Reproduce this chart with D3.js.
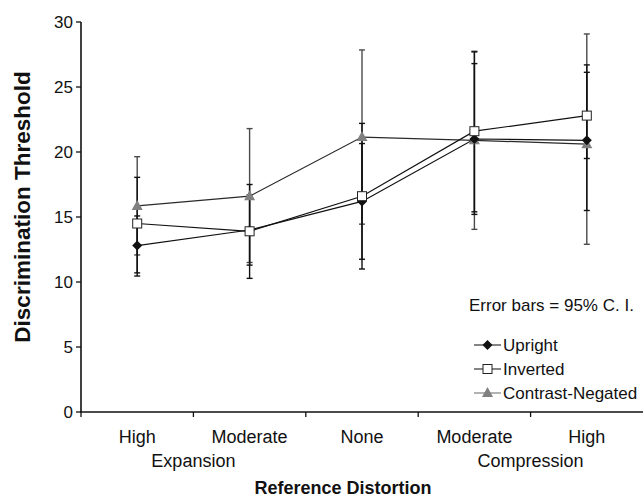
<!DOCTYPE html>
<html>
<head>
<meta charset="utf-8">
<script src="https://cdn.jsdelivr.net/npm/d3@7"></script>
<style>
  body { margin: 0; background: #fff; }
  text { font-family: "Liberation Sans", Arial, sans-serif; fill: #111; }
</style>
</head>
<body>
<div id="chart"></div>
<script>
// categories along the x axis
const categories = ["HE", "ME", "N", "MC", "HC"];
const topLabels = ["High", "Moderate", "None", "Moderate", "High"];
const yTicks = [0, 5, 10, 15, 20, 25, 30];

// means per series
const upright = [12.8, 14.0, 16.2, 21.0, 20.9];
const inverted = [14.5, 13.9, 16.6, 21.6, 22.8];
const contrast = [15.85, 16.6, 21.15, 20.9, 20.6];

// 95% CI ends (lower, upper)
const uprightLo = [10.46, 11.3, 11.75, 15.2, 15.5];
const uprightHi = [15.08, 16.7, 20.65, 26.8, 26.7];
const invertedLo = [10.7, 10.28, 11.0, 15.4, 19.5];
const invertedHi = [18.05, 17.5, 22.2, 27.7, 26.13];
const contrastLo = [12.08, 11.5, 14.45, 14.05, 12.9];
const contrastHi = [19.64, 21.8, 27.85, 27.75, 29.08];

const W = 644, H = 497;
const svg = d3.select("#chart").append("svg")
    .attr("width", W).attr("height", H);

const x = d3.scaleBand().domain(categories).range([81, 643]).padding(0);
const y = d3.scaleLinear().domain([0, 30]).range([412, 22]);

const series = [
    {name: "Contrast-Negated", vals: contrast, lo: contrastLo, hi: contrastHi, bar: "#4a4a4a", line: "#2a2a2a", marker: "tri"},
    {name: "Upright", vals: upright, lo: uprightLo, hi: uprightHi, bar: "#111", line: "#111", marker: "dia"},
    {name: "Inverted", vals: inverted, lo: invertedLo, hi: invertedHi, bar: "#111", line: "#111", marker: "sq"}
];

function cx(i) { return x(categories[i]) + x.bandwidth() / 2; }

// error bars
series.forEach(function(s) {
    let g = svg.append("g");
    s.vals.forEach(function(v, i) {
        g.append("line")
            .attr("x1", cx(i)).attr("x2", cx(i))
            .attr("y1", y(s.lo[i])).attr("y2", y(s.hi[i]))
            .attr("stroke", s.bar).attr("stroke-width", 1.4);
        [s.lo[i], s.hi[i]].forEach(function(e) {
            g.append("line")
                .attr("x1", cx(i) - 3).attr("x2", cx(i) + 3)
                .attr("y1", y(e)).attr("y2", y(e))
                .attr("stroke", s.bar).attr("stroke-width", 1.4);
        });
    });
});

// lines
const line = d3.line().x(function(d, i) { return cx(i); }).y(function(d) { return y(d); });
series.forEach(function(s) {
    svg.append("path").datum(s.vals)
        .attr("d", line)
        .attr("fill", "none")
        .attr("stroke", s.line)
        .attr("stroke-width", 1.2);
});

function drawMarker(g, kind, px, py) {
    if (kind === "dia") {
        g.append("path")
            .attr("d", "M" + px + "," + (py - 5) + "L" + (px + 5) + "," + py + "L" + px + "," + (py + 5) + "L" + (px - 5) + "," + py + "Z")
            .attr("fill", "#111");
    } else if (kind === "sq") {
        g.append("rect")
            .attr("x", px - 4.5).attr("y", py - 4.5)
            .attr("width", 9).attr("height", 9)
            .attr("fill", "#fff").attr("stroke", "#222").attr("stroke-width", 1);
    } else {
        g.append("path")
            .attr("d", "M" + px + "," + (py - 6) + "L" + (px + 5.5) + "," + (py + 4) + "L" + (px - 5.5) + "," + (py + 4) + "Z")
            .attr("fill", "#808080");
    }
}

// markers
series.forEach(function(s) {
    let g = svg.append("g");
    s.vals.forEach(function(v, i) { drawMarker(g, s.marker, cx(i), y(v)); });
});

// y axis
svg.append("line").attr("x1", 81).attr("x2", 81).attr("y1", y(30)).attr("y2", y(0))
    .attr("stroke", "#111").attr("stroke-width", 1.6);
yTicks.forEach(function(t) {
    svg.append("line").attr("x1", 76).attr("x2", 81).attr("y1", y(t)).attr("y2", y(t))
        .attr("stroke", "#111").attr("stroke-width", 1.3);
    svg.append("text").attr("x", 73).attr("y", y(t)).attr("dy", "0.35em")
        .attr("text-anchor", "end").style("font-size", "17px").text(t);
});

// x axis
svg.append("line").attr("x1", 80).attr("x2", 643).attr("y1", 412).attr("y2", 412)
    .attr("stroke", "#111").attr("stroke-width", 1.6);
categories.forEach(function(c) {
    svg.append("line").attr("x1", x(c)).attr("x2", x(c)).attr("y1", 412).attr("y2", 417)
        .attr("stroke", "#111").attr("stroke-width", 1.3);
});
topLabels.forEach(function(l, i) {
    svg.append("text").attr("x", cx(i)).attr("y", 443)
        .attr("text-anchor", "middle").style("font-size", "18px").text(l);
});
svg.append("text").attr("x", x("ME")).attr("y", 467)
    .attr("text-anchor", "middle").style("font-size", "18px").text("Expansion");
svg.append("text").attr("x", x("HC")).attr("y", 467)
    .attr("text-anchor", "middle").style("font-size", "18px").text("Compression");

// axis titles
svg.append("text").attr("x", 343).attr("y", 494)
    .attr("text-anchor", "middle").style("font-size", "18px").style("font-weight", "bold")
    .text("Reference Distortion");
svg.append("text").attr("transform", "translate(30,207) rotate(-90)")
    .attr("text-anchor", "middle").style("font-size", "22.5px").style("font-weight", "bold")
    .text("Discrimination Threshold");

// note
svg.append("text").attr("x", 469).attr("y", 311).style("font-size", "17px")
    .text("Error bars = 95% C. I.");

// legend
const legendOrder = [series[1], series[2], series[0]];
const legendY = [345, 369, 393];
legendOrder.forEach(function(s, i) {
    let g = svg.append("g");
    g.append("line").attr("x1", 474).attr("x2", 501).attr("y1", legendY[i]).attr("y2", legendY[i])
        .attr("stroke", s.marker === "tri" ? "#808080" : "#333").attr("stroke-width", 1.2);
    drawMarker(g, s.marker, 487.5, legendY[i]);
    g.append("text").attr("x", 503).attr("y", legendY[i]).attr("dy", "0.35em")
        .style("font-size", "17px").text(s.name);
});
</script>
</body>
</html>
